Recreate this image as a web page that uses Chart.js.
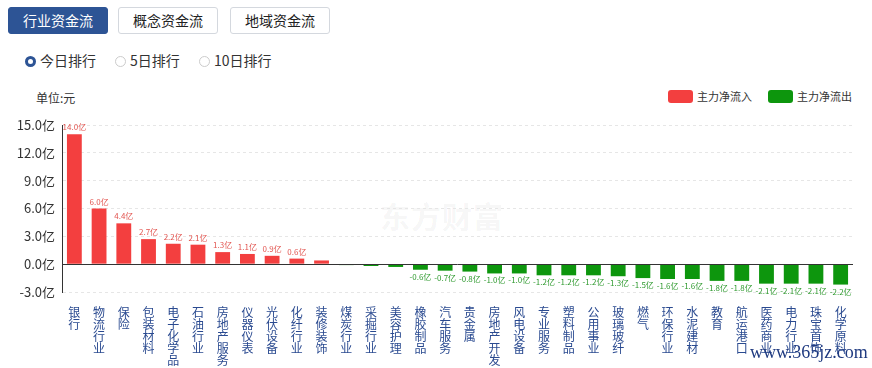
<!DOCTYPE html>
<html>
<head>
<meta charset="utf-8">
<script src="https://cdn.jsdelivr.net/npm/chart.js@4/dist/chart.umd.min.js"></script>
<style>
    body { margin: 0; background: #fff; font-family: "Noto Sans CJK SC", "Noto Sans", sans-serif; }
    #page { position: relative; width: 872px; height: 368px; overflow: hidden; }
    .tab { position: absolute; top: 7px; height: 27px; width: 100px; box-sizing: border-box; border: 1px solid #d4d8de; border-radius: 3px; font-size: 14px; line-height: 25px; text-align: center; color: #222; background: #fff; }
    .tab.active { background: #2d5495; border-color: #2d5495; color: #fff; }
    .radio { position: absolute; top: 51px; font-size: 14px; line-height: 18px; color: #333; }
    .radio i { display: inline-block; width: 11px; height: 11px; border: 1px solid #ccc; border-radius: 50%; vertical-align: -1px; margin-right: 4px; box-sizing: border-box; }
    .radio.on i { border: 3.5px solid #2d5495; }
    #unit { position: absolute; left: 36px; top: 89px; font-size: 12px; color: #333; }
    .legend { position: absolute; top: 89px; font-size: 11px; color: #333; line-height: 14px; }
    .legend b { display: inline-block; width: 25px; height: 13px; border-radius: 3px; vertical-align: -2px; margin-right: 4px; }
    #wm { position: absolute; left: 380px; top: 193px; font-size: 30px; font-weight: bold; color: rgba(0,0,0,0.05); letter-spacing: 1px; }
    #site { position: absolute; left: 750px; top: 342px; font-family: "Liberation Serif", serif; font-size: 18px; line-height: 20px; color: #1f3a80; z-index: 3; }
    #box { position: absolute; left: 0; top: 110px; width: 872px; height: 258px; }
</style>
</head>
<body>
<div id="page">
    <div class="tab active" style="left:8px">行业资金流</div>
    <div class="tab" style="left:118px">概念资金流</div>
    <div class="tab" style="left:230px">地域资金流</div>
    <div class="radio on" style="left:25px"><i></i>今日排行</div>
    <div class="radio" style="left:115px"><i></i>5日排行</div>
    <div class="radio" style="left:199px"><i></i>10日排行</div>
    <div id="unit">单位:元</div>
    <div class="legend" style="left:668px"><b style="background:#f33f3f"></b>主力净流入</div>
    <div class="legend" style="left:768px"><b style="background:#0d960d"></b>主力净流出</div>
    <div id="wm">东方财富</div>
    <div id="box"><canvas id="flowChart"></canvas></div>
    <div id="site">www.365jz.com</div>
</div>
<script>
const industries = ['银行', '物流行业', '保险', '包装材料', '电子化学品', '石油行业', '房地产服务', '仪器仪表',
    '光伏设备', '化纤行业', '装修装饰', '煤炭行业', '采掘行业', '美容护理', '橡胶制品', '汽车服务', '贵金属',
    '房地产开发', '风电设备', '专业服务', '塑料制品', '公用事业', '玻璃玻纤', '燃气', '环保行业', '水泥建材',
    '教育', '航运港口', '医药商业', '电力行业', '珠宝首饰', '化学原料'];
const netFlow = [14.0, 6.0, 4.4, 2.7, 2.2, 2.1, 1.3, 1.1, 0.9, 0.6, 0.4, -0.1, -0.2, -0.3, -0.6, -0.7, -0.8,
    -1.0, -1.0, -1.2, -1.2, -1.2, -1.3, -1.5, -1.6, -1.6, -1.8, -1.8, -2.1, -2.1, -2.1, -2.2];
const yTicks = [-3, 0, 3, 6, 9, 12, 15];

const RED = '#f33f3f';
const GREEN = '#0d960d';

const valueLabels = {
    id: 'valueLabels',
    afterDatasetsDraw(chart) {
        const ctx = chart.ctx;
        const meta = chart.getDatasetMeta(0);
        ctx.save();
        ctx.font = '8px "Noto Sans CJK SC", sans-serif';
        ctx.textAlign = 'center';
        meta.data.forEach((bar, i) => {
            const v = netFlow[i];
            if (Math.abs(v) < 0.5) return;
            if (v > 0) {
                ctx.fillStyle = '#e2544f';
                ctx.textBaseline = 'bottom';
                ctx.fillText(v.toFixed(1) + '亿', bar.x, bar.y - 3);
            } else {
                ctx.fillStyle = '#2f9a2f';
                ctx.textBaseline = 'top';
                ctx.fillText(v.toFixed(1) + '亿', bar.x, bar.y + 3);
            }
        });
        ctx.restore();
    }
};

const zeroLine = {
    id: 'zeroLine',
    afterDatasetsDraw(chart) {
        const ctx = chart.ctx;
        const y = Math.round(chart.scales.y.getPixelForValue(0)) + 0.5;
        ctx.save();
        ctx.strokeStyle = '#333';
        ctx.lineWidth = 1;
        ctx.beginPath();
        ctx.moveTo(chart.chartArea.left, y);
        ctx.lineTo(chart.chartArea.right, y);
        ctx.stroke();
        ctx.restore();
    }
};

const ctx = document.getElementById('flowChart').getContext('2d');
new Chart(ctx, {
    type: 'bar',
    data: {
        labels: industries.map(name => name.split('')),
        datasets: [{
            data: netFlow,
            backgroundColor: netFlow.map(v => v >= 0 ? RED : GREEN),
            barPercentage: 0.6,
            categoryPercentage: 1
        }]
    },
    options: {
        responsive: true,
        maintainAspectRatio: false,
        animation: false,
        layout: { padding: { top: 15, right: 19, left: 0, bottom: 0 } },
        plugins: { legend: { display: false }, tooltip: { enabled: false } },
        scales: {
            x: {
                grid: { display: false },
                border: { display: false },
                afterFit: s => { s.height = 76; },
                ticks: {
                    autoSkip: false,
                    maxRotation: 0,
                    minRotation: 0,
                    padding: 6,
                    color: '#2a4a90',
                    font: { family: '"Noto Sans CJK SC", sans-serif', size: 12, lineHeight: 1.0 }
                }
            },
            y: {
                min: -3,
                max: 15,
                afterFit: s => { s.width = 62; },
                afterBuildTicks: s => { s.ticks = yTicks.map(v => ({ value: v })); },
                border: { color: '#333', dash: [3, 3] },
                grid: { color: '#e6e6e6', drawTicks: false },
                ticks: {
                    color: '#333',
                    padding: 7,
                    font: { family: '"Noto Sans CJK SC", sans-serif', size: 13 },
                    callback: v => v.toFixed(1) + '亿'
                }
            }
        }
    },
    plugins: [valueLabels, zeroLine]
});
</script>
</body>
</html>
